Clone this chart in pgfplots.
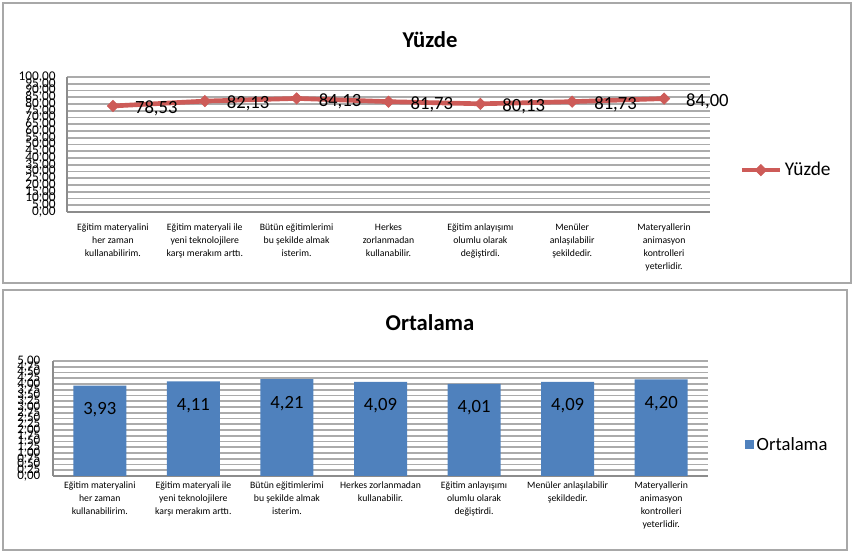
\documentclass[border=0pt]{standalone}
\usepackage{pgfplots}
\pgfplotsset{compat=1.18}
\usepackage{fontspec}
\setmainfont{Carlito}
\definecolor{linecol}{HTML}{CD5B58}
\definecolor{barcol}{HTML}{4F81BD}
\definecolor{gridcol}{HTML}{ABABAB}
\definecolor{axcol}{HTML}{8C8C8C}
\definecolor{boxcol}{HTML}{A8A8A8}
\pgfplotsset{
  mystyle/.style={
    anchor=south west, scale only axis,
    xmin=-0.5, xmax=6.5, xtick={0,...,6},
    major tick length=0,
    axis x line*=bottom, axis y line*=left,
    axis line style={axcol, line width=1pt, -},
    ymajorgrids, grid style={gridcol, line width=1.3pt},
    /pgf/number format/.cd, fixed, fixed zerofill, precision=2, use comma, assume math mode=true,
    /pgfplots/.cd,
    xticklabel style={align=center, font=\fontsize{7.3}{9.75}\selectfont},
    legend style={draw=none, fill=none, inner sep=0pt},
  }
}
\begin{document}
\begin{tikzpicture}
\path (0,0) rectangle (643.5pt,416.25pt);
\draw[boxcol, line width=1.2pt] (2.25pt,204pt) rectangle (638.25pt,414pt);
\draw[boxcol, line width=1.2pt] (2.25pt,3.75pt) rectangle (635.25pt,198.75pt);
\node[font=\bfseries\fontsize{17}{20}\selectfont] at (322.5pt,386.25pt) {Yüzde};
\node[font=\bfseries\fontsize{17}{20}\selectfont] at (322.5pt,174pt) {Ortalama};

\begin{axis}[mystyle,
  at={(50.25pt,257.25pt)}, width=482.25pt, height=101.25pt,
  ymin=0, ymax=100, ytick={0,5,...,100},
  yticklabel style={font=\fontsize{10}{10}\selectfont, xshift=-5pt},
  xticklabel style={yshift=-5pt},
  xticklabels={{Eğitim materyalini\\her zaman\\kullanabilirim.},
               {Eğitim materyali ile\\yeni teknolojilere\\karşı merakım arttı.},
               {Bütün eğitimlerimi\\bu şekilde almak\\isterim.},
               {Herkes\\zorlanmadan\\kullanabilir.},
               {Eğitim anlayışımı\\olumlu olarak\\değiştirdi.},
               {Menüler\\anlaşılabilir\\şekildedir.},
               {Materyallerin\\animasyon\\kontrolleri\\yeterlidir.}},
  legend style={at={(1,0.31)}, anchor=west, xshift=22pt, font=\fontsize{14.5}{16}\selectfont},
  legend image code/.code={\draw[mark repeat=2,mark phase=2] plot coordinates {(0cm,0cm)(0.5cm,0cm)(1cm,0cm)};},
  nodes near coords,
  nodes near coords style={anchor=west, xshift=13pt, yshift=-2pt, font=\fontsize{14}{16}\selectfont, text=black},
  clip=false,
]
\addplot[linecol, line width=3.5pt, mark=square*, mark size=3pt, mark options={rotate=45, fill=linecol, solid, line width=0.5pt}]
  coordinates {(0,78.53) (1,82.13) (2,84.13) (3,81.73) (4,80.13) (5,81.73) (6,84.00)};
\addlegendentry{Yüzde}
\end{axis}

\begin{axis}[mystyle,
  at={(39.75pt,59.25pt)}, width=491.25pt, height=86.25pt,
  ymin=0, ymax=5, ytick={0,0.25,...,5},
  yticklabel style={font=\fontsize{9.75}{10}\selectfont, xshift=-6pt},
  xticklabel style={yshift=-1pt},
  xticklabels={{Eğitim materyalini\\her zaman\\kullanabilirim.},
               {Eğitim materyali ile\\yeni teknolojilere\\karşı merakım arttı.},
               {Bütün eğitimlerimi\\bu şekilde almak\\isterim.},
               {Herkes zorlanmadan\\kullanabilir.},
               {Eğitim anlayışımı\\olumlu olarak\\değiştirdi.},
               {Menüler anlaşılabilir\\şekildedir.},
               {Materyallerin\\animasyon\\kontrolleri\\yeterlidir.}},
  ybar, bar width=39.75pt,
  legend style={at={(1,0.27)}, anchor=west, xshift=27.5pt, font=\fontsize{14}{16}\selectfont},
  legend image code/.code={\fill[barcol] (0pt,-3.4pt) rectangle (6.8pt,3.4pt);},
  nodes near coords,
  nodes near coords style={anchor=center, yshift=-18pt, font=\fontsize{14}{16}\selectfont, text=black},
  clip=false,
]
\addplot[fill=barcol, draw=none]
  coordinates {(0,3.93) (1,4.11) (2,4.21) (3,4.09) (4,4.01) (5,4.09) (6,4.20)};
\addlegendentry{Ortalama}
\end{axis}
\end{tikzpicture}
\end{document}
